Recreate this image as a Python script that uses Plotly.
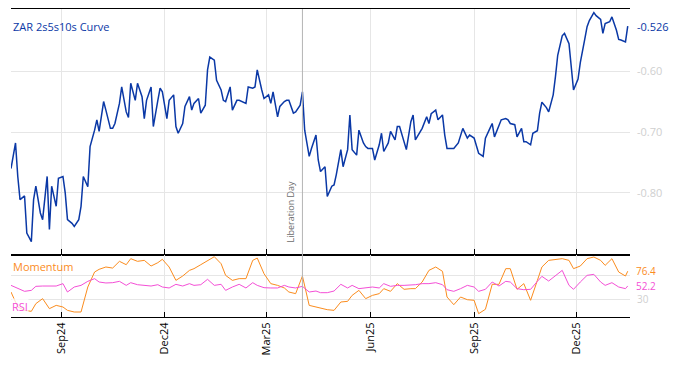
import plotly.graph_objects as go
import pandas as pd

# ---- data ----
start_date = "2024-07-18"
curve = [-0.760, -0.718, -0.773, -0.811, -0.805, -0.866, -0.880, -0.811, -0.789, -0.833,
         -0.844, -0.773, -0.860, -0.789, -0.822, -0.776, -0.773, -0.800, -0.844, -0.850,
         -0.855, -0.844, -0.822, -0.773, -0.790, -0.724, -0.697, -0.680, -0.699, -0.650,
         -0.664, -0.694, -0.694, -0.686, -0.653, -0.626, -0.667, -0.676, -0.620, -0.648,
         -0.620, -0.642, -0.678, -0.648, -0.626, -0.691, -0.648, -0.628, -0.634, -0.678,
         -0.648, -0.639, -0.691, -0.702, -0.686, -0.658, -0.642, -0.664, -0.653, -0.645,
         -0.669, -0.656, -0.598, -0.577, -0.582, -0.615, -0.631, -0.648, -0.650, -0.626,
         -0.664, -0.648, -0.648, -0.650, -0.653, -0.626, -0.628, -0.626, -0.598, -0.631,
         -0.645, -0.639, -0.653, -0.634, -0.675, -0.658, -0.650, -0.648, -0.648, -0.669,
         -0.667, -0.656, -0.634, -0.697, -0.740, -0.727, -0.705, -0.746, -0.765, -0.757,
         -0.806, -0.789, -0.787, -0.770, -0.729, -0.757, -0.729, -0.672, -0.729, -0.738,
         -0.697, -0.718, -0.724, -0.727, -0.727, -0.746, -0.721, -0.702, -0.732, -0.718,
         -0.699, -0.713, -0.691, -0.691, -0.718, -0.729, -0.683, -0.672, -0.713, -0.699,
         -0.694, -0.675, -0.686, -0.670, -0.664, -0.680, -0.672, -0.705, -0.727, -0.727,
         -0.727, -0.718, -0.705, -0.694, -0.710, -0.705, -0.710, -0.721, -0.735, -0.740,
         -0.710, -0.694, -0.686, -0.708, -0.690, -0.680, -0.678, -0.680, -0.686, -0.688,
         -0.708, -0.694, -0.716, -0.716, -0.721, -0.702, -0.698, -0.669, -0.651, -0.660,
         -0.667, -0.639, -0.609, -0.574, -0.542, -0.538, -0.555, -0.593, -0.631, -0.613,
         -0.586, -0.547, -0.527, -0.517, -0.504, -0.509, -0.515, -0.538, -0.522, -0.519,
         -0.511, -0.533, -0.548, -0.549, -0.552, -0.526]

momentum = [42.3, 17.7, 12.2, 10.6, 23.2, 31.4, 15.0, 20.4, 17.7, 12.2,
            9.5, 9.5, 50.5, 75.1, 79.5, 83.3, 81.6, 92.6, 87.1, 97.0,
            92.6, 94.2, 84.9, 90.4, 95.9, 83.3, 61.4, 68.5, 77.8, 80.6,
            87.1, 94.2, 100.2, 88.7, 69.6, 61.4, 64.2, 64.2, 94.2, 98.0,
            72.3, 56.0, 53.2, 48.9, 42.3, 39.6, 68.5, 20.4, 17.7, 15.0,
            13.3, 12.2, 25.9, 27.0, 36.8, 45.0, 31.4, 36.8, 39.6, 47.8,
            43.4, 56.0, 46.7, 47.8, 47.8, 58.7, 77.8, 83.3, 76.2, 34.1,
            21.5, 34.1, 29.7, 28.7, 6.8, 13.9, 54.9, 54.9, 80.6, 80.6,
            46.7, 56.0, 28.7, 61.4, 83.3, 94.2, 95.9, 97.0, 94.2, 80.6,
            84.9, 97.0, 99.7, 94.2, 86.0, 97.0, 75.1, 68.5, 76.4]

rsi = [53.2, 47.8, 43.4, 45.0, 51.6, 52.1, 52.1, 52.1, 56.0, 42.3,
       50.5, 53.2, 59.8, 64.2, 58.7, 57.1, 57.6, 59.8, 53.2, 57.6,
       54.3, 53.2, 52.1, 54.3, 50.5, 48.9, 54.9, 52.1, 56.0, 53.2,
       54.3, 63.1, 53.2, 54.9, 45.0, 50.5, 54.9, 48.9, 57.6, 53.2,
       49.4, 48.9, 48.9, 53.2, 50.5, 48.9, 51.6, 42.3, 43.9, 41.2,
       41.2, 43.9, 54.9, 48.9, 53.2, 47.8, 49.4, 50.5, 48.9, 56.0,
       51.6, 53.2, 53.2, 53.2, 54.3, 56.0, 56.0, 57.6, 54.3, 46.1,
       43.4, 47.8, 53.2, 50.5, 43.4, 46.7, 58.7, 52.1, 59.8, 58.7,
       47.8, 46.1, 46.7, 59.8, 68.0, 60.3, 69.6, 77.8, 53.2, 46.7,
       58.7, 69.6, 71.3, 58.7, 53.2, 57.6, 50.5, 47.8, 52.2]

event_date = "2025-04-02"
event_label = "Liberation Day"
curve_ticks = [-0.80, -0.70, -0.60]
curve_ticktext = ["-0.80", "-0.70", "-0.60"]
osc_ticks = [30, 70]
osc_ticktext = ["30", ""]

# ---- dates ----
main_dates = list(pd.bdate_range(start_date, periods=len(curve), freq="2B"))
osc_dates = main_dates[::2] + [main_dates[-1]]

BLUE = "#0a38a6"
ORANGE = "#fb8c1e"
PINK = "#f44fd6"
GRID = "#e6e6e6"
TICKGREY = "#cfcfcf"
FONT = "Open Sans"

fig = go.Figure()
fig.add_trace(go.Scatter(x=main_dates, y=curve, mode="lines",
                         line=dict(color=BLUE, width=1.5), xaxis="x", yaxis="y",
                         showlegend=False))
fig.add_trace(go.Scatter(x=osc_dates, y=momentum, mode="lines",
                         line=dict(color=ORANGE, width=1), xaxis="x2", yaxis="y2",
                         showlegend=False))
fig.add_trace(go.Scatter(x=osc_dates, y=rsi, mode="lines",
                         line=dict(color=PINK, width=1), xaxis="x2", yaxis="y2",
                         showlegend=False))

split = 62 / 308
xr = ["2024-07-18", "2026-01-17"]

# page body has an 8px margin, so the figure is drawn at (8, 8)
fig.update_layout(
    width=670, height=358,
    margin=dict(l=3, r=48, t=1, b=49, autoexpand=False),
    paper_bgcolor="white", plot_bgcolor="white",
    font=dict(family=FONT, size=11, color="#333"),
    xaxis=dict(domain=[0, 1], anchor="y", range=xr, showticklabels=False,
               showline=True, mirror=True, linecolor="black", linewidth=1,
               ticks="inside", ticklen=6, tickcolor="black",
               tick0="2024-09-01", dtick="M3",
               showgrid=True, gridcolor=GRID, zeroline=False),
    yaxis=dict(domain=[split, 1], anchor="x", side="right", range=[-0.902, -0.498],
               tickvals=curve_ticks, ticktext=curve_ticktext,
               tickfont=dict(color=TICKGREY, size=11), ticks="", ticklabelstandoff=6,
               showgrid=True, gridcolor=GRID, zeroline=False, showline=False),
    xaxis2=dict(domain=[0, 1], anchor="y2", matches="x", range=xr,
                showline=True, mirror=True, linecolor="black", linewidth=1,
                ticks="inside", ticklen=5, tickcolor="black",
                tick0="2024-09-01", dtick="M3", tickformat="%b%y", tickangle=-90,
                tickfont=dict(color="black", size=11),
                showgrid=True, gridcolor=GRID, zeroline=False),
    yaxis2=dict(domain=[0, split], anchor="x2", side="right", range=[1.3, 103],
                tickvals=osc_ticks, ticktext=osc_ticktext,
                tickfont=dict(color=TICKGREY, size=10), ticks="", ticklabelstandoff=6,
                showgrid=True, gridcolor=GRID, zeroline=False, showline=False),
)

fig.add_shape(type="line", x0=event_date, x1=event_date, xref="x", yref="paper",
              y0=0, y1=1, line=dict(color="#b4b4b4", width=1))

annos = [
    dict(text="ZAR 2s5s10s Curve", xref="paper", yref="paper", x=0, y=1,
         xanchor="left", yanchor="top", xshift=0, yshift=-8,
         font=dict(color=BLUE, size=11), showarrow=False),
    dict(text=event_label, xref="x", yref="paper", x=event_date, y=(317 - 244) / 308,
         xanchor="right", yanchor="bottom", textangle=-90, xshift=-3,
         font=dict(color="#6b6b6b", size=9), showarrow=False),
    dict(text="Momentum", xref="paper", yref="y2", x=0, y=84,
         xanchor="left", yanchor="middle", xshift=0,
         font=dict(color=ORANGE, size=11), showarrow=False),
    dict(text="RSI", xref="paper", yref="y2", x=0, y=18,
         xanchor="left", yanchor="middle", xshift=0, bgcolor="rgba(255,255,255,0.75)",
         borderpad=0,
         font=dict(color=PINK, size=11), showarrow=False),
    dict(text=f"{curve[-1]:.3f}", xref="paper", yref="y", x=1, y=curve[-1],
         xanchor="left", yanchor="middle", xshift=5,
         font=dict(color=BLUE, size=11), showarrow=False),
    dict(text=f"{momentum[-1]:.1f}", xref="paper", yref="y2", x=1, y=momentum[-1],
         xanchor="left", yanchor="middle", xshift=5, borderpad=0,
         font=dict(color=ORANGE, size=10), showarrow=False),
    dict(text=f"{rsi[-1]:.1f}", xref="paper", yref="y2", x=1, y=rsi[-1],
         xanchor="left", yanchor="middle", xshift=5, borderpad=0,
         font=dict(color=PINK, size=10), showarrow=False),
]
fig.update_layout(annotations=annos)

fig.write_html("out.html")
